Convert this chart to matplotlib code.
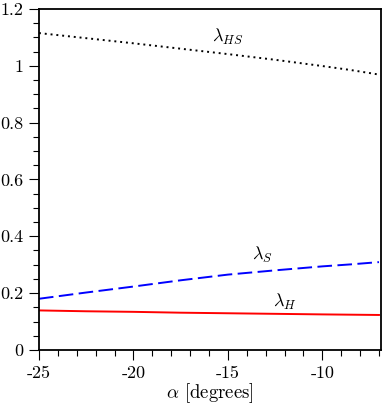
import numpy as np
import matplotlib
matplotlib.use("Agg")
import matplotlib.pyplot as plt
from matplotlib.ticker import MultipleLocator

plt.rcParams["mathtext.fontset"] = "cm"
plt.rcParams["font.family"] = ["cmr10", "DejaVu Serif"]
plt.rcParams["axes.unicode_minus"] = False
plt.rcParams["axes.formatter.use_mathtext"] = True

alpha = [-25, -22.5, -20, -17.5, -15, -12.5, -10, -8.5, -7]
lam_hs = [1.115, 1.097, 1.079, 1.060, 1.041, 1.021, 0.999, 0.985, 0.969]
lam_s = [0.180, 0.202, 0.223, 0.245, 0.265, 0.280, 0.294, 0.301, 0.309]
lam_h = [0.139, 0.136, 0.134, 0.131, 0.129, 0.127, 0.125, 0.124, 0.123]

fig = plt.figure(figsize=(3.82, 4.05), dpi=100)
ax = fig.add_axes([0.102, 0.136, 0.895, 0.842])

ax.plot(alpha, lam_hs, color="black", ls=(0, (1, 2)), lw=1.4)
ax.plot(alpha, lam_s, color="blue", ls=(0, (7.5, 2.8)), lw=1.4)
ax.plot(alpha, lam_h, color="red", ls="-", lw=1.4)

ax.text(-15.0, 1.10, r"$\lambda_{HS}$", fontsize=13, ha="center", va="center")
ax.text(-13.2, 0.335, r"$\lambda_{S}$", fontsize=13, ha="center", va="center")
ax.text(-12.0, 0.168, r"$\lambda_{H}$", fontsize=13, ha="center", va="center")

ax.set_xlim(-25, -6.9)
ax.set_ylim(0, 1.2)
ax.set_xticks([-25, -20, -15, -10])
ax.set_xticklabels(["-25", "-20", "-15", "-10"])
ax.set_yticks([0, 0.2, 0.4, 0.6, 0.8, 1.0, 1.2])
ax.set_yticklabels(["0", "0.2", "0.4", "0.6", "0.8", "1", "1.2"])
ax.xaxis.set_minor_locator(MultipleLocator(1))
ax.yaxis.set_minor_locator(MultipleLocator(0.05))
ax.tick_params(which="both", direction="out", labelsize=13, width=0.8, pad=4)
ax.tick_params(which="major", length=7.2)
ax.tick_params(which="minor", length=4.3)
for s in ax.spines.values():
    s.set_linewidth(1.3)

ax.set_xlabel(r"$\alpha$ [degrees]", fontsize=13.5, labelpad=0.5)

fig.savefig("out.png", dpi=100)
